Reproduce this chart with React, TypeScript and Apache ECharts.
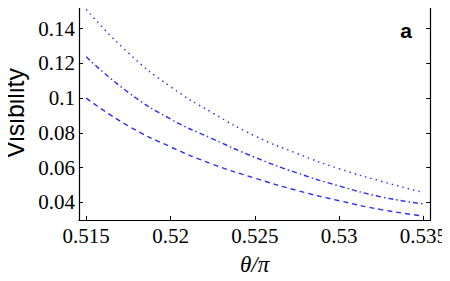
import React, { useEffect, useRef } from "react";
import * as echarts from "echarts";

const thetaValues = [0.515, 0.5175, 0.52, 0.5225, 0.525, 0.5275, 0.53, 0.5325, 0.535];
const dottedSeries = [0.151, 0.126, 0.1066, 0.0915, 0.0783, 0.0682, 0.0594, 0.0522, 0.0457];
const dashDotSeries = [0.1238, 0.1033, 0.088, 0.0766, 0.066, 0.057, 0.0495, 0.0432, 0.0392];
const dashedSeries = [0.1, 0.084, 0.072, 0.062, 0.054, 0.0469, 0.041, 0.0359, 0.0322];
const xTicks = [0.515, 0.52, 0.525, 0.53, 0.535];
const yTicks = [0.04, 0.06, 0.08, 0.1, 0.12, 0.14];

const X_MIN = 0.51457;
const X_MAX = 0.53541;
const Y_MIN = 0.0299;
const Y_MAX = 0.1542;

const serif = "Liberation Serif";
const lineColor = "#2b2bff";

function pairs(ys: number[]) {
  return thetaValues.map((x, i) => [x, ys[i]]);
}

export default function App() {
  const ref = useRef<HTMLDivElement>(null);
  useEffect(() => {
    if (!ref.current) return;
    const chart = echarts.init(ref.current, undefined, { renderer: "svg" });
    const axisCommon = {
      type: "value" as const,
      axisLine: { show: true, onZero: false, lineStyle: { color: "#000", width: 1.2 } },
      splitLine: { show: false },
    };
    const richStyle = { s: { fontFamily: serif, fontSize: 21, color: "#000" } };
    const labelStyle = {
      show: true,
      formatter: (v: number) => "{s|" + String(v) + "}",
      rich: richStyle,
      fontFamily: serif,
      fontSize: 21,
      color: "#000",
    };
    chart.setOption({
      animation: false,
      backgroundColor: "#fff",
      textStyle: { fontFamily: serif, color: "#000" },
      grid: { left: 79, top: 4, right: 19.4, bottom: 60, containLabel: false },
      xAxis: [
        {
          ...axisCommon,
          position: "bottom",
          min: X_MIN,
          max: X_MAX,
          name: "{t|θ/π}",
          nameLocation: "middle",
          nameGap: 33,
          nameTextStyle: {
            fontFamily: serif,
            fontStyle: "italic",
            fontSize: 23,
            color: "#000",
            rich: { t: { fontFamily: serif, fontStyle: "italic", fontSize: 23, color: "#000" } },
          },
          axisTick: { show: true, inside: true, length: 4, customValues: xTicks, lineStyle: { color: "#000" } },
          axisLabel: { ...labelStyle, customValues: xTicks, margin: 5 },
        },
        {
          ...axisCommon,
          position: "top",
          min: X_MIN,
          max: X_MAX,
          axisTick: { show: true, inside: true, length: 4, customValues: xTicks, lineStyle: { color: "#000" } },
          axisLabel: { show: false },
        },
      ],
      yAxis: [
        {
          ...axisCommon,
          position: "left",
          min: Y_MIN,
          max: Y_MAX,
          axisTick: { show: true, inside: true, length: 4, customValues: yTicks, lineStyle: { color: "#000" } },
          axisLabel: { ...labelStyle, customValues: yTicks, margin: 4 },
        },
        {
          ...axisCommon,
          position: "right",
          min: Y_MIN,
          max: Y_MAX,
          axisTick: { show: true, inside: true, length: 4, customValues: yTicks, lineStyle: { color: "#000" } },
          axisLabel: { show: false },
        },
      ],
      graphic: [
        {
          type: "text",
          x: 15,
          y: 113,
          rotation: Math.PI / 2,
          style: {
            text: "Visibility",
            font: "25px 'Liberation Sans'",
            fill: "#000",
            align: "center",
            verticalAlign: "middle",
          },
        },
        {
          type: "text",
          x: 406,
          y: 30,
          style: {
            text: "a",
            font: "bold 21px 'Liberation Sans'",
            fill: "#000",
            align: "center",
            verticalAlign: "middle",
          },
        },
      ],
      series: [
        {
          type: "line",
          data: pairs(dottedSeries),
          smooth: true,
          symbol: "none",
          lineStyle: { color: lineColor, width: 1.4, type: [1.5, 4] },
        },
        {
          type: "line",
          data: pairs(dashDotSeries),
          smooth: true,
          symbol: "none",
          lineStyle: { color: lineColor, width: 1.4, type: [5, 3, 1.5, 3] },
        },
        {
          type: "line",
          data: pairs(dashedSeries),
          smooth: true,
          symbol: "none",
          lineStyle: { color: lineColor, width: 1.4, type: [5, 4] },
        },
      ],
    });
    return () => chart.dispose();
  }, []);
  return <div ref={ref} style={{ width: 450, height: 281, margin: -8 }} />;
}
